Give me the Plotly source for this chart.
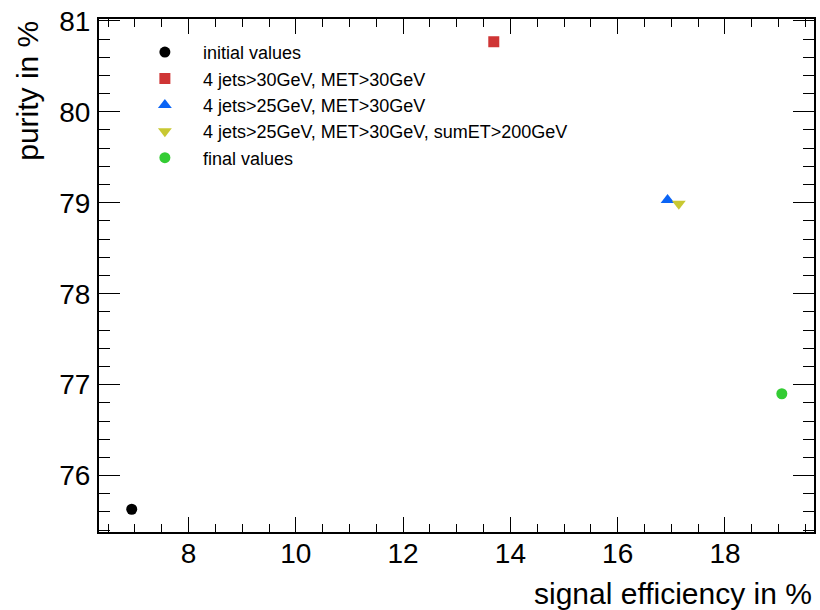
import plotly.graph_objects as go

# data
series_names = [
    "initial values",
    "4 jets>30GeV, MET>30GeV",
    "4 jets>25GeV, MET>30GeV",
    "4 jets>25GeV, MET>30GeV, sumET>200GeV",
    "final values",
]
efficiency = [6.94, 13.69, 16.93, 17.14, 19.06]
purity = [75.63, 80.77, 79.03, 78.99, 76.90]
symbols = ["circle", "square", "triangle-up", "triangle-down", "circle"]
colors = ["#000000", "#cf3535", "#0a64f5", "#c8c832", "#33cc33"]
sizes = [11, 11, 12, 12, 11]

x_title = "signal efficiency in %"
y_title = "purity in %"

FONT = "Liberation Sans, Arial, Helvetica, sans-serif"

fig = go.Figure()
for name, xv, yv, sym, col, sz in zip(series_names, efficiency, purity, symbols, colors, sizes):
    fig.add_trace(go.Scatter(
        x=[xv], y=[yv], mode="markers", name=name,
        marker=dict(symbol=sym, color=col, size=sz, line=dict(width=0)),
    ))

axis_common = dict(
    showgrid=False, zeroline=False,
    showline=True, linecolor="black", linewidth=2, mirror="ticks",
    ticks="inside", tickcolor="black", tickwidth=1,
    tickfont=dict(family=FONT, size=28, color="black"),
)

fig.update_xaxes(
    range=[6.33, 19.66], dtick=2, tick0=0, ticklen=15,
    minor=dict(dtick=0.5, ticks="inside", ticklen=8, tickcolor="black", tickwidth=1),
    ticklabelstandoff=-5,
    **axis_common,
)
fig.update_yaxes(
    range=[75.38, 81.02], dtick=1, tick0=0, ticklen=21,
    minor=dict(dtick=0.2, ticks="inside", ticklen=11, tickcolor="black", tickwidth=1),
    ticklabelstandoff=1,
    **axis_common,
)

fig.add_annotation(
    text=x_title, xref="paper", yref="paper", x=1.0, y=-0.084,
    xanchor="right", yanchor="top", showarrow=False,
    font=dict(family=FONT, size=30, color="black"),
)
fig.add_annotation(
    text=y_title, xref="paper", yref="paper", x=-0.101, y=1.0,
    xanchor="center", yanchor="top", textangle=-90, showarrow=False,
    font=dict(family=FONT, size=30, color="black"),
)

fig.update_layout(
    width=820, height=610,
    margin=dict(l=99, r=4, t=19, b=78),
    paper_bgcolor="white", plot_bgcolor="white",
    font=dict(family=FONT, color="black"),
    showlegend=True,
    legend=dict(
        x=0.039, y=0.971, xanchor="left", yanchor="top",
        bgcolor="rgba(0,0,0,0)", borderwidth=0,
        font=dict(family=FONT, size=18, color="black"),
        itemwidth=66,
    ),
)

fig.write_html("out.html")
